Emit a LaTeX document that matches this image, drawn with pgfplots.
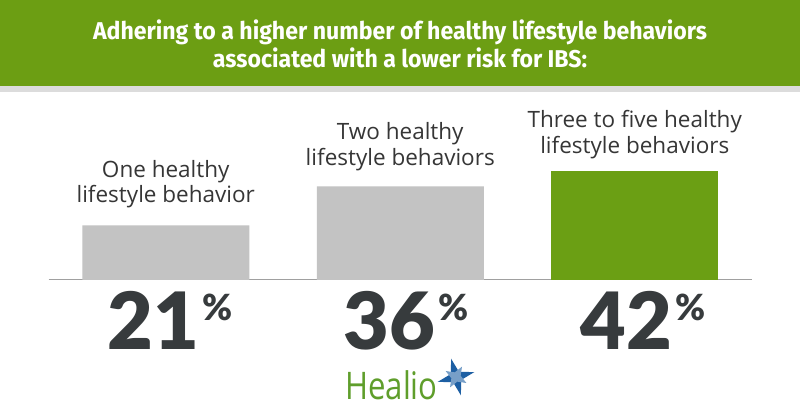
\documentclass[border=0pt]{standalone}
\usepackage{pgfplots}
\pgfplotsset{compat=1.18}
\usepackage{fontspec}
\usetikzlibrary{shapes.geometric}
\setmainfont{Open Sans}
\newfontfamily\titlefont[FakeStretch=0.95]{Fira Sans}
\IfFontExistsTF{Lato Black}{\newfontfamily\numfont{Lato Black}}{\newfontfamily\numfont[FakeBold=1.5]{Lato Bold}}
\newfontfamily\labelfont{Open Sans}
\definecolor{bannergreen}{HTML}{6C9E13}
\definecolor{bargreen}{HTML}{6B9F14}
\definecolor{stripgrey}{HTML}{DCDCDC}
\definecolor{bargrey}{HTML}{C3C3C3}
\definecolor{basegrey}{HTML}{A0A0A0}
\definecolor{labelgrey}{HTML}{363636}
\definecolor{numgrey}{HTML}{373B3D}
\definecolor{healiogreen}{HTML}{5F9E2B}
\definecolor{healioblue}{HTML}{1D5FA3}
\tikzset{lab/.style={anchor=base, text=labelgrey, inner sep=0, font=\labelfont\fontsize{22.5}{25}\selectfont},
  ttl/.style={anchor=base, text=white, inner sep=0, font=\titlefont\bfseries\fontsize{24.3}{26}\selectfont},
  num/.style={anchor=base, text=numgrey, inner sep=0, font=\numfont\fontsize{79}{79}\selectfont}}
\newcommand{\pct}{\kern3pt\raisebox{29pt}{\fontsize{36}{36}\selectfont\%}}
\begin{document}
\begin{tikzpicture}[x=1pt,y=1pt]
\path[use as bounding box] (0,0) rectangle (800,420);
\fill[white] (0,0) rectangle (800,420);
\fill[bannergreen] (0,334) rectangle (800,420);
\fill[stripgrey] (0,328) rectangle (800,334);
\node[ttl] at (400,380) {Adhering to a higher number of healthy lifestyle behaviors};
\node[ttl] at (400,352) {associated with a lower risk for IBS:};
\begin{axis}[
  at={(48.5pt,140pt)}, anchor=south west,
  width=703.5pt, height=260pt, scale only axis,
  xmin=-0.5, xmax=2.5, ymin=0, ymax=100,
  axis y line=none, axis x line*=bottom,
  x axis line style={draw=basegrey, line width=1pt},
  xtick=\empty, ytick=\empty,
  ybar, bar width=167pt, clip=false]
\addplot[fill=bargrey, draw=none, bar shift=0pt] coordinates {(0,21) (1,36)};
\addplot[fill=bargreen, draw=none, bar shift=0pt] coordinates {(2,42)};
\end{axis}
\node[lab] at (165.75,242) {One healthy};
\node[lab] at (165.75,217) {lifestyle behavior};
\node[lab] at (400.25,280) {Two healthy};
\node[lab] at (400.25,254) {lifestyle behaviors};
\node[lab] at (634.75,292) {Three to five healthy};
\node[lab] at (634.75,266) {lifestyle behaviors};
\node[num] at (170,70) {21\pct};
\node[num] at (406,70) {36\pct};
\node[num] at (643,70) {42\pct};
\node[anchor=base west, text=healiogreen, font=\labelfont\fontsize{38}{38}\selectfont, inner sep=0] at (345,20) {\scalebox{0.82}[1]{Healio}};
\node[star, star points=4, star point ratio=3.2, minimum size=38pt, fill=healioblue, rotate=15, inner sep=0] at (456,43) {};
\node[star, star points=4, star point ratio=2.5, minimum size=24pt, fill=healioblue!60!white, rotate=60, inner sep=0] at (456,43) {};
\end{tikzpicture}
\end{document}
